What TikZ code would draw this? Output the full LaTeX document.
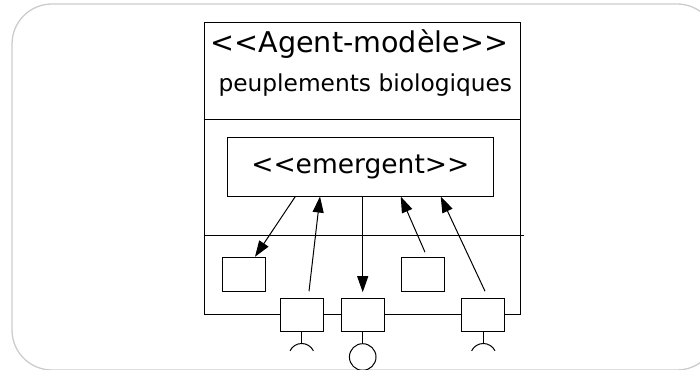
\documentclass[tikz,border=0pt]{standalone}
\usepackage{fontspec}
\setmainfont{DejaVu Sans}
\usetikzlibrary{arrows.meta}
\tikzset{
  box/.style={draw, fill=white, line width=1pt, inner sep=0pt},
  port/.style={box, minimum width=43.3pt, minimum height=33.4pt},
  part/.style={box, minimum width=43.3pt, minimum height=34.4pt},
  link/.style={line width=1pt, -{Triangle[length=16pt,width=11pt]}},
}
\begin{document}
\begin{tikzpicture}[x=1pt, y=1pt, line width=1pt]
  \useasboundingbox (0,0) rectangle (700,369);
  \draw[gray!40, line width=1.3pt, rounded corners=40pt] (12,365) rectangle (717,-1);
  % composite agent
  \node[box, minimum width=316pt, minimum height=292pt] (agent) at (362,200.2) {};
  \draw (agent.west |- 0,249.7) -- (agent.east |- 0,249.7);
  \draw (agent.west |- 0,133) -- ([xshift=3pt]agent.east |- 0,133);
  \node[anchor=base, font=\fontsize{28.6}{32}\selectfont] (title) at (359.4,316) {<{}<Agent-modèle>{}>};
  \node[anchor=base, font=\fontsize{23.3}{27}\selectfont] (kind) at (365.3,277) {peuplements biologiques};
  \node[box, minimum width=266pt, minimum height=58.7pt, font=\fontsize{26.5}{30}\selectfont] (emergent) at (360.3,202.3) {<{}<emergent>{}>};
  \node[part] (inner1) at (244.3,94.5) {};
  \node[part] (inner2) at (423.3,94.5) {};
  \node[port] (port1) at (301.7,54) {};
  \node[port] (port2) at (362.7,54) {};
  \node[port] (port3) at (483.3,54) {};
  % links
  \draw[link] ([xshift=-65pt]emergent.south) -- ([xshift=10.7pt]inner1.north);
  \draw[link] ([shift={(7.3pt,6.6pt)}]port1.north) -- ([xshift=-40.3pt]emergent.south);
  \draw[link] (emergent.south -| port2) -- ([yshift=5.6pt]port2.north);
  \draw[link] ([shift={(1.7pt,4.6pt)}]inner2.north) -- ([xshift=40.4pt]emergent.south);
  \draw[link] ([shift={(1.7pt,6.6pt)}]port3.north) -- ([xshift=80.4pt]emergent.south);
  % interfaces
  \foreach \p in {port1,port3} {
    \draw (\p.south) -- ++(0,-11.3) coordinate (\p-top);
    \draw (\p-top) arc (90:154:13pt) (\p-top) arc (90:26:13pt);
  }
  \draw (port2.south) -- ++(0,-11) node[circle, draw, anchor=north, minimum size=26.6pt, inner sep=0pt] (ball) {};
\end{tikzpicture}
\end{document}
